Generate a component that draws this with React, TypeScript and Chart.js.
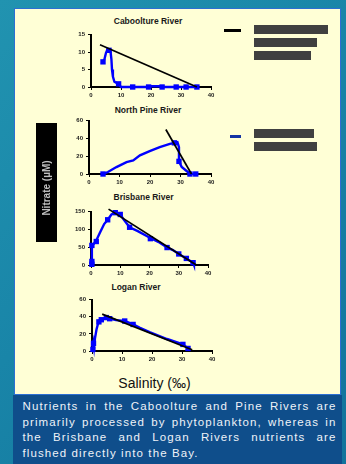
import React, { useEffect, useRef } from "react";
import { Chart, registerables } from "chart.js";
Chart.register(...registerables);

// ---- Data (salinity ‰ vs nitrate) ----
const salinityTicks = [0, 10, 20, 30, 40];

// Caboolture River
const cabTraceSal = [4, 4.5, 5, 5.5, 6, 6.5, 6.8, 7, 7.3, 7.8, 8.5, 9.2, 10, 14, 19.5, 20, 23.7, 24.5, 28.4, 31.7, 35.3];
const cabTraceNit = [7.2, 8, 9.8, 10.8, 10.6, 10.2, 8, 5, 3, 1.5, 1.2, 0.9, 0, 0, 0, 0.2, 0.2, 0, 0, 0, 0];
const cabSampleSal = [4, 6, 9.2, 13.9, 19.2, 23.7, 28.4, 31.7, 35.3];
const cabSampleNit = [7.2, 10.5, 0.9, 0, 0, 0, 0, 0, 0];
const cabMixSal = [3, 35.3];
const cabMixNit = [12.1, 0];

// North Pine River
const pineTraceSal = [4.6, 6.2, 9, 12.3, 14.5, 16.7, 19.9, 23.2, 26.5, 28.2, 29, 29.5, 29.5, 30.4, 32, 33.1, 35];
const pineTraceNit = [0, 2.2, 7.8, 13.4, 15.3, 20.9, 25.7, 30.2, 33.9, 35, 35.8, 30.2, 14.2, 7.8, 3.4, 0.4, 0];
const pineSampleSal = [4.6, 28, 29.5, 33.1, 35];
const pineSampleNit = [0, 35, 14.2, 0, 0];
const pineMixSal = [25.2, 33.6];
const pineMixNit = [50, 0];

// Brisbane River
const brisTraceSal = [0.2, 0.3, 0.3, 1, 1.8, 3, 4.5, 5.7, 7, 8.3, 10, 11, 13.2, 16, 20.3, 23, 26, 28, 30, 32.6, 34.9, 35.2];
const brisTraceNit = [0, 15, 55, 60, 69, 90, 115, 127, 142, 148, 142, 130, 106, 95, 76, 65, 49, 42, 31, 18.5, 6.5, 0];
const brisSampleSal = [0.3, 0.3, 0.3, 1.8, 5.7, 8.3, 10, 13.2, 20.3, 26, 30, 32.6, 34.9];
const brisSampleNit = [2, 10, 55, 66, 127, 147, 142, 106, 74, 49, 31, 18.5, 6.5];
const brisMixSal = [6, 36];
const brisMixNit = [157, 0];

// Logan River
const loganTraceSal = [0.1, 0.3, 0.5, 0.7, 1, 1.5, 2, 2.6, 3.1, 4.8, 5.9, 8, 10.9, 13.7, 16, 19.2, 25, 30.3, 32];
const loganTraceNit = [0, 8, 11, 5, 15, 25, 32, 36.5, 36.5, 39, 37.7, 36, 35, 31, 27, 22, 14, 7.7, 3];
const loganSampleSal = [0.3, 0.5, 2.3, 3.1, 4.8, 5.9, 10.9, 13.7, 30.3, 32];
const loganSampleNit = [2, 9, 34, 36.5, 39, 37.7, 35, 31, 7.7, 3];
const loganMixSal = [3.4, 33.4];
const loganMixNit = [43, 1.5];

const toPts = (xs: number[], ys: number[]) => xs.map((x, i) => ({ x, y: ys[i] }));

const FONT = "'Liberation Sans', Arial, Helvetica, sans-serif";

type Box = { L: number; R: number; T: number; B: number };

function RiverChart(props: {
  traceSal: number[]; traceNit: number[];
  sampleSal: number[]; sampleNit: number[];
  mixSal: number[]; mixNit: number[];
  yMax: number; yStep: number; box: Box;
}) {
  const ref = useRef<HTMLCanvasElement | null>(null);
  const yAxisW = 31, xAxisH = 14, topPad = 6, rightPad = 10;
  const { L, R, T, B } = props.box;
  const w = yAxisW + (R - L) + rightPad;
  const h = topPad + (B - T) + xAxisH;
  useEffect(() => {
    if (!ref.current) return;
    const tickFont = { family: FONT, size: 6, weight: "bold" as const };
    const chart = new Chart(ref.current, {
      type: "scatter",
      data: {
        datasets: [
          {
            data: toPts(props.mixSal, props.mixNit),
            showLine: true, borderColor: "#000000", borderWidth: 1.7,
            pointRadius: 0, clip: false as any,
          },
          {
            data: toPts(props.traceSal, props.traceNit),
            showLine: true, borderColor: "#0000ff", borderWidth: 2.4,
            pointRadius: 0, tension: 0, clip: false as any,
          },
          {
            data: toPts(props.sampleSal, props.sampleNit),
            showLine: false, pointStyle: "rect", pointRadius: 3.8,
            backgroundColor: "#0000ff", borderColor: "#0000ff", borderWidth: 0,
            clip: false as any,
          },
        ],
      },
      options: {
        animation: false,
        responsive: false,
        maintainAspectRatio: false,
        events: [],
        layout: { padding: { top: topPad, right: rightPad, left: 0, bottom: 0 } },
        plugins: { legend: { display: false }, tooltip: { enabled: false }, title: { display: false } },
        scales: {
          x: {
            type: "linear", min: 0, max: 40,
            afterBuildTicks: (s: any) => { s.ticks = salinityTicks.map((v) => ({ value: v })); },
            ticks: { font: tickFont, color: "#1a1a1a", padding: 2, maxRotation: 0 },
            grid: { display: true, drawOnChartArea: false, drawTicks: true, tickLength: 3, color: "#000", lineWidth: 1 },
            border: { display: true, color: "#000", width: 2 },
            afterFit: (s: any) => { s.height = xAxisH; },
          },
          y: {
            type: "linear", min: 0, max: props.yMax,
            ticks: { stepSize: props.yStep, font: tickFont, color: "#1a1a1a", padding: 3 },
            grid: { display: true, drawOnChartArea: false, drawTicks: true, tickLength: 3, color: "#000", lineWidth: 1 },
            border: { display: true, color: "#000", width: 2 },
            afterFit: (s: any) => { s.width = yAxisW; },
          },
        },
      },
    });
    return () => chart.destroy();
  }, []);
  return (
    <canvas
      ref={ref}
      width={w}
      height={h}
      style={{ position: "absolute", left: L - yAxisW, top: T - topPad, width: w, height: h }}
    />
  );
}

function Title(props: { text: string; cx: number; cy: number }) {
  return (
    <div
      style={{
        position: "absolute", left: props.cx - 60, top: props.cy - 6, width: 120, height: 12,
        lineHeight: "12px", textAlign: "center", fontFamily: FONT, fontWeight: "bold",
        fontSize: 8.5, color: "#1a1a1a", whiteSpace: "nowrap",
      }}
    >
      {props.text}
    </div>
  );
}

const grayBox = (left: number, top: number, width: number) => (
  <div style={{ position: "absolute", left, top, width, height: 9, background: "#404040" }} />
);

export default function App() {
  const captionLines = [
    "Nutrients in the Caboolture and Pine Rivers are",
    "primarily processed by phytoplankton, whereas in",
    "the Brisbane and Logan Rivers nutrients are",
    "flushed directly into the Bay.",
  ];
  return (
    <div
      style={{
        position: "fixed", left: 0, top: 0, width: 346, height: 464, overflow: "hidden",
        background: "linear-gradient(135deg, #2193b0 0%, #1985a8 45%, #12739c 100%)",
      }}
    >
      {/* white panel */}
      <div
        style={{
          position: "absolute", left: 14, top: 8, width: 327, height: 387,
          background: "#ffffd6", boxSizing: "border-box", border: "1px solid #2d6fd2",
        }}
      />
      <Title text="Caboolture River" cx={148} cy={21} />
      <Title text="North Pine River" cx={148} cy={110} />
      <Title text="Brisbane River" cx={143.5} cy={197} />
      <Title text="Logan River" cx={136} cy={287} />

      <RiverChart traceSal={cabTraceSal} traceNit={cabTraceNit} sampleSal={cabSampleSal} sampleNit={cabSampleNit}
        mixSal={cabMixSal} mixNit={cabMixNit} yMax={15} yStep={5} box={{ L: 91, R: 211, T: 34, B: 87 }} />
      <RiverChart traceSal={pineTraceSal} traceNit={pineTraceNit} sampleSal={pineSampleSal} sampleNit={pineSampleNit}
        mixSal={pineMixSal} mixNit={pineMixNit} yMax={60} yStep={20} box={{ L: 89, R: 211, T: 120, B: 174 }} />
      <RiverChart traceSal={brisTraceSal} traceNit={brisTraceNit} sampleSal={brisSampleSal} sampleNit={brisSampleNit}
        mixSal={brisMixSal} mixNit={brisMixNit} yMax={150} yStep={50} box={{ L: 91, R: 208, T: 211, B: 265 }} />
      <RiverChart traceSal={loganTraceSal} traceNit={loganTraceNit} sampleSal={loganSampleSal} sampleNit={loganSampleNit}
        mixSal={loganMixSal} mixNit={loganMixNit} yMax={60} yStep={20} box={{ L: 92, R: 212, T: 299, B: 351 }} />

      {/* y-axis label image */}
      <div style={{ position: "absolute", left: 36, top: 123, width: 21, height: 119, background: "#000", overflow: "hidden" }}>
        <div
          style={{
            position: "absolute", left: 10.5 - 50, top: 65 - 6, width: 100, height: 12, lineHeight: "12px",
            textAlign: "center", transform: "rotate(-90deg)", color: "#bfbfbf", fontFamily: FONT,
            fontWeight: "bold", fontSize: 10, filter: "blur(0.7px)", whiteSpace: "nowrap",
          }}
        >
          Nitrate (µM)
        </div>
      </div>

      {/* legend */}
      <div style={{ position: "absolute", left: 224, top: 28.5, width: 17, height: 3, background: "#000" }} />
      {grayBox(254, 25, 74)}
      {grayBox(254, 38, 63)}
      {grayBox(254, 51, 57)}
      <div style={{ position: "absolute", left: 230, top: 135, width: 11, height: 3, background: "#1434a4" }} />
      {grayBox(254, 129, 60)}
      {grayBox(254, 142, 63)}

      {/* x-axis title */}
      <div
        style={{
          position: "absolute", left: 154.5 - 60, top: 376, width: 120, height: 15, lineHeight: "15px",
          textAlign: "center", fontFamily: FONT, fontSize: 14, color: "#111", whiteSpace: "nowrap",
        }}
      >
        Salinity (‰)
      </div>

      {/* caption */}
      <div style={{ position: "absolute", left: 13, top: 395, width: 329, height: 69, background: "#0f4e8b" }} />
      {captionLines.map((t, i) => (
        <div
          key={i}
          style={{
            position: "absolute", left: 22.5, top: 398.8 + i * 15.8, width: 314, height: 15.8,
            lineHeight: "15.8px", fontFamily: FONT, fontSize: 11.5, letterSpacing: "1.1px",
            color: "#eef2f8", whiteSpace: "nowrap", overflow: "visible",
            textAlign: i < 3 ? "justify" : "left", textAlignLast: i < 3 ? "justify" : "left",
          } as any}
        >
          {t}
        </div>
      ))}
    </div>
  );
}
